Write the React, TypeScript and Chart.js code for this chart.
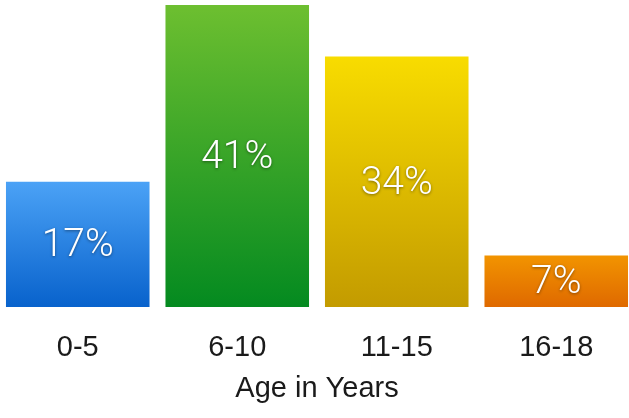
import React, { useEffect, useRef } from "react";
import { Chart, registerables } from "chart.js";

Chart.register(...registerables);

const categories = ["0-5", "6-10", "11-15", "16-18"];
const values = [17, 41, 34, 7];
const valueLabels = ["17%", "41%", "34%", "7%"];
const topColors = ["#4ba2f6", "#6dbf30", "#f8dc00", "#f29400"];
const bottomColors = ["#0862cc", "#048a20", "#c39b00", "#df6900"];
const axisTitle = "Age in Years";

const FONT = "'Liberation Sans', Arial, Helvetica, sans-serif";
const LABEL_FONT = "Roboto, 'Liberation Sans', Arial, sans-serif";

const barLabels = {
  id: "barLabels",
  afterDatasetsDraw(chart: any) {
    const ctx = chart.ctx;
    const meta = chart.getDatasetMeta(0);
    ctx.save();
    ctx.font = `300 39px ${LABEL_FONT}`;
    ctx.fillStyle = "#ffffff";
    ctx.textAlign = "center";
    ctx.textBaseline = "middle";
    ctx.shadowColor = "rgba(0,0,0,0.45)";
    ctx.shadowBlur = 3;
    ctx.shadowOffsetY = 1;
    meta.data.forEach((bar: any, i: number) => {
      const { x, y, base } = bar.getProps(["x", "y", "base"], true);
      ctx.fillText(valueLabels[i], x, (y + base) / 2 + 2);
    });
    ctx.restore();
  },
};

export default function App() {
  const ref = useRef<HTMLCanvasElement | null>(null);

  useEffect(() => {
    if (!ref.current) return;
    const chart = new Chart(ref.current, {
      type: "bar",
      data: {
        labels: categories,
        datasets: [
          {
            data: values,
            categoryPercentage: 1,
            barPercentage: 0.9,
            borderWidth: 0,
            backgroundColor: (c: any) => {
              const i = c.dataIndex ?? 0;
              const chart = c.chart;
              if (!chart.chartArea || c.type !== "data" || !chart.scales.y) return topColors[i];
              const ys = chart.scales.y;
              const top = ys.getPixelForValue(values[i]);
              const bot = ys.getPixelForValue(0);
              const g = chart.ctx.createLinearGradient(0, top, 0, bot);
              g.addColorStop(0, topColors[i]);
              g.addColorStop(1, bottomColors[i]);
              return g;
            },
          },
        ],
      },
      options: {
        animation: false,
        responsive: true,
        maintainAspectRatio: false,
        layout: { padding: { top: 5, left: 0, right: 0, bottom: 0 } },
        plugins: {
          legend: { display: false },
          tooltip: { enabled: false },
        },
        scales: {
          y: { display: false, min: 0, max: 41 },
          x: {
            offset: true,
            grid: { display: false, drawTicks: false },
            border: { display: false },
            ticks: {
              color: "#1a1a1a",
              font: { family: FONT, size: 29 },
              padding: 24,
              maxRotation: 0,
            },
            title: {
              display: true,
              text: axisTitle,
              color: "#1a1a1a",
              font: { family: FONT, size: 29 },
              padding: { top: 0, bottom: 12 },
            },
            afterFit: (scale: any) => {
              scale.height = 111;
            },
          },
        },
      },
      plugins: [barLabels],
    });
    return () => chart.destroy();
  }, []);

  return (
    <div style={{ position: "fixed", left: 0, top: 0, width: 629, height: 418, overflow: "hidden", background: "#fff" }}>
      <div style={{ position: "absolute", left: -2, top: 0, width: 638, height: 418 }}>
        <canvas ref={ref} />
      </div>
    </div>
  );
}
